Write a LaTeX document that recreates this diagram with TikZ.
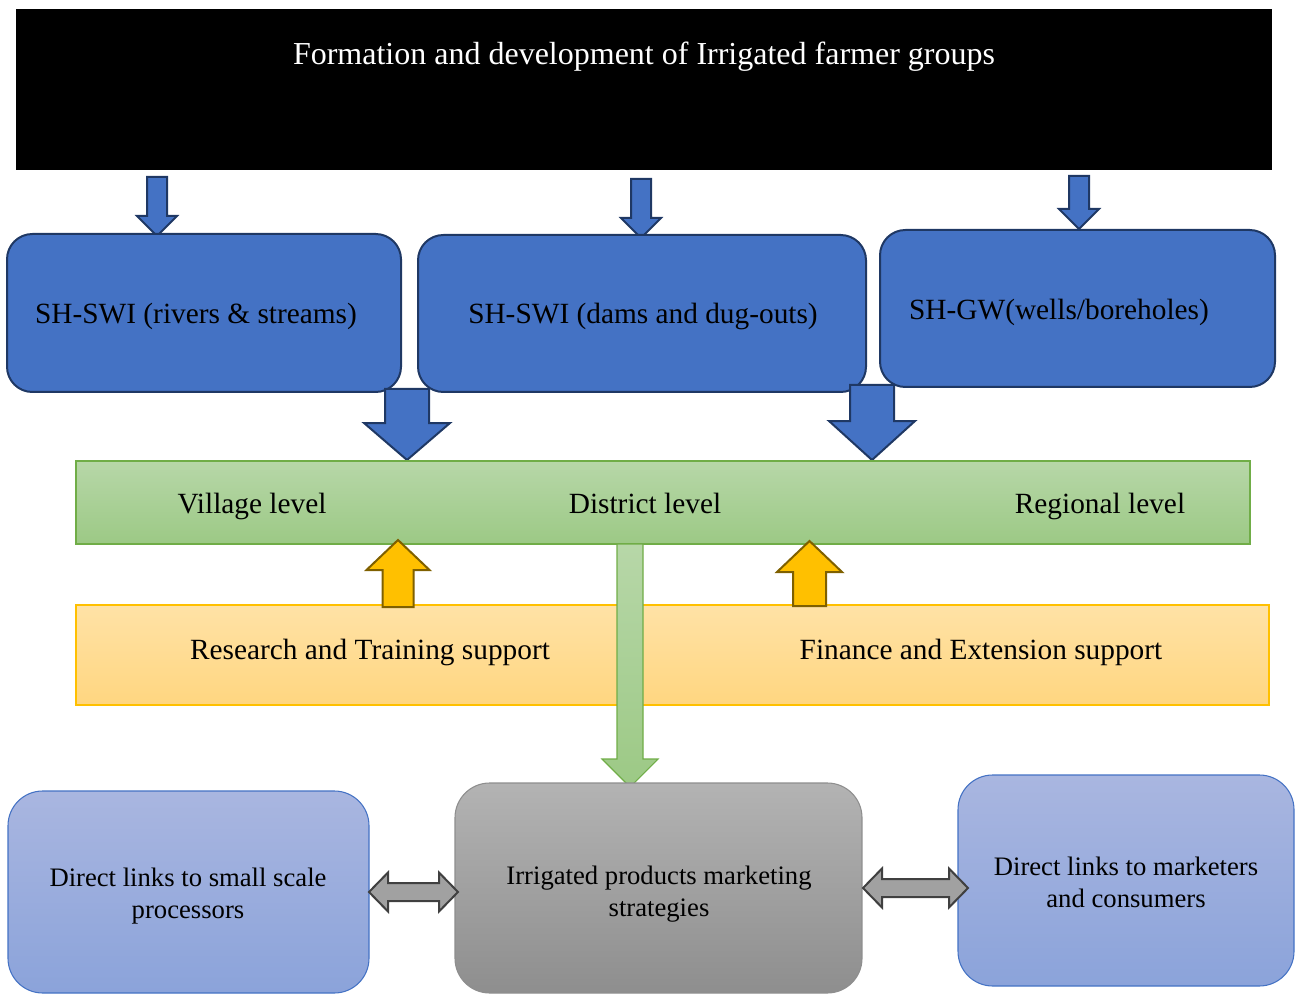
\documentclass[tikz,border=0pt]{standalone}
\usepackage{fontspec}
\setmainfont{Liberation Serif}

\definecolor{blueF}{HTML}{4472C4}
\definecolor{navyE}{HTML}{1F3864}
\definecolor{greenT}{HTML}{B7D7A8}
\definecolor{greenB}{HTML}{9CC985}
\definecolor{greenE}{HTML}{70AD47}
\definecolor{orangeT}{HTML}{FFE2A6}
\definecolor{orangeB}{HTML}{FFD680}
\definecolor{goldF}{HTML}{FFC000}
\definecolor{goldE}{HTML}{7F6000}
\definecolor{lblueT}{HTML}{A9B6E0}
\definecolor{lblueB}{HTML}{8BA3DA}
\definecolor{grayT}{HTML}{B3B3B3}
\definecolor{grayB}{HTML}{8E8E8E}
\definecolor{grayE}{HTML}{404040}

% vertical block arrow: style, x, tail y, tip y, shaft width, head width, head base y
\newcommand\vblock[7]{%
  \draw[#1] ({#2-#5/2},#3) -- ({#2+#5/2},#3) -- ({#2+#5/2},#7) -- ({#2+#6/2},#7)
    -- (#2,#4) -- ({#2-#6/2},#7) -- ({#2-#5/2},#7) -- cycle;}
% horizontal double block arrow: style, left tip x, right tip x, y, shaft height, head height, head length
\newcommand\hdouble[7]{%
  \draw[#1] (#2,#4) -- ({#2+#7},{#4-#6/2}) -- ({#2+#7},{#4-#5/2}) -- ({#3-#7},{#4-#5/2})
    -- ({#3-#7},{#4-#6/2}) -- (#3,#4) -- ({#3-#7},{#4+#6/2}) -- ({#3-#7},{#4+#5/2})
    -- ({#2+#7},{#4+#5/2}) -- ({#2+#7},{#4+#6/2}) -- cycle;}

\tikzset{
  txtbase/.style={text=black, inner sep=0pt},
  lbl/.style={txtbase, anchor=base, font=\fontsize{22}{26}\selectfont},
  lbltitle/.style={txtbase, anchor=base, font=\fontsize{24}{28}\selectfont},
  lblsmall/.style={txtbase, font=\fontsize{20}{24}\selectfont, align=center},
  headbox/.style={draw=none, fill=black, rectangle},
  bluebox/.style={draw=navyE, line width=1.5pt, fill=blueF, rectangle, rounded corners=19pt},
  bluearrow/.style={draw=navyE, line width=1.5pt, fill=blueF, line join=miter},
  greenbar/.style={draw=greenE, line width=0.8pt, top color=greenT, bottom color=greenB, rectangle},
  orangebar/.style={draw=goldF, line width=0.8pt, top color=orangeT, bottom color=orangeB, rectangle},
  goldarrow/.style={draw=goldE, line width=1.5pt, fill=goldF},
  greenarrow/.style={draw=greenE, line width=0.8pt, top color=greenT, bottom color=greenB},
  lbluebox/.style={draw=blueF, line width=0.8pt, top color=lblueT, bottom color=lblueB, rectangle, rounded corners=26pt},
  graybox/.style={draw=grayB, line width=0.8pt, top color=grayT, bottom color=grayB, rectangle, rounded corners=26pt},
  grayarrow/.style={draw=grayE, line width=1.5pt, fill=grayT!90!black},
}

\begin{document}
\begin{tikzpicture}[x=0.75pt,y=-0.75pt]
\useasboundingbox (0,0) rectangle (1298,994);

% heading block
\node[headbox, minimum width={1256*0.75pt}, minimum height={161*0.75pt}] (head) at (644,89.5) {};
\node[lbltitle, text=white] (headtxt) at (644,64.5) {Formation and development of Irrigated farmer groups};

% arrows into the three scheme types
\vblock{bluearrow}{157}{177}{236}{20}{40}{216}
\vblock{bluearrow}{641}{179}{238}{20}{40}{218}
\vblock{bluearrow}{1079}{176}{229}{20}{40}{209}

% scheme types
\node[bluebox, minimum width={394*0.75pt}, minimum height={158*0.75pt}] (swr) at (204,313) {};
\node[bluebox, minimum width={448*0.75pt}, minimum height={157*0.75pt}] (swd) at (642,313.5) {};
\node[bluebox, minimum width={395*0.75pt}, minimum height={157*0.75pt}] (gw) at (1077.5,308.5) {};
\node[lbl] (swrtxt) at (196,323.5) {SH-SWI (rivers \& streams)};
\node[lbl] (swdtxt) at (643,323.5) {SH-SWI (dams and dug-outs)};
\node[lbl] (gwtxt) at (1059,319.5) {SH-GW(wells/boreholes)};

% arrows down to the levels bar
\vblock{bluearrow}{407}{389}{460}{44}{86}{423}
\vblock{bluearrow}{872}{385}{460}{44}{86}{421}

% levels bar
\node[greenbar, minimum width={1174*0.75pt}, minimum height={83*0.75pt}] (levels) at (663,502.5) {};
\node[lbl] (village) at (252,513.5) {Village level};
\node[lbl] (district) at (645,513.5) {District level};
\node[lbl] (regional) at (1100,513.5) {Regional level};

% support bar
\node[orangebar, minimum width={1193*0.75pt}, minimum height={100*0.75pt}] (support) at (672.5,655) {};
\node[lbl] (research) at (370,659.5) {Research and Training support};
\node[lbl] (finance) at (981,659.5) {Finance and Extension support};

% support arrows up
\vblock{goldarrow}{398}{607}{540}{31}{63}{570}
\vblock{goldarrow}{809.5}{606}{541}{33}{65}{572}

% district level down to marketing
\vblock{greenarrow}{630}{544}{787}{26}{56}{759}

% marketing row
\node[lbluebox, minimum width={361*0.75pt}, minimum height={202*0.75pt}] (proc) at (188.5,892) {};
\node[graybox, minimum width={407*0.75pt}, minimum height={210*0.75pt}] (mkt) at (658.5,888) {};
\node[lbluebox, minimum width={336*0.75pt}, minimum height={211*0.75pt}] (cons) at (1126,880.5) {};
\node[lblsmall] (proctxt) at (188,896) {Direct links to small scale\\processors};
\node[lblsmall] (mkttxt) at (659,894) {Irrigated products marketing\\strategies};
\node[lblsmall] (constxt) at (1126,882) {Direct links to marketers\\and consumers};

% two-way links
\hdouble{grayarrow}{369}{458}{892}{18}{39}{19}
\hdouble{grayarrow}{863}{968}{888}{18}{39}{19}
\end{tikzpicture}
\end{document}
